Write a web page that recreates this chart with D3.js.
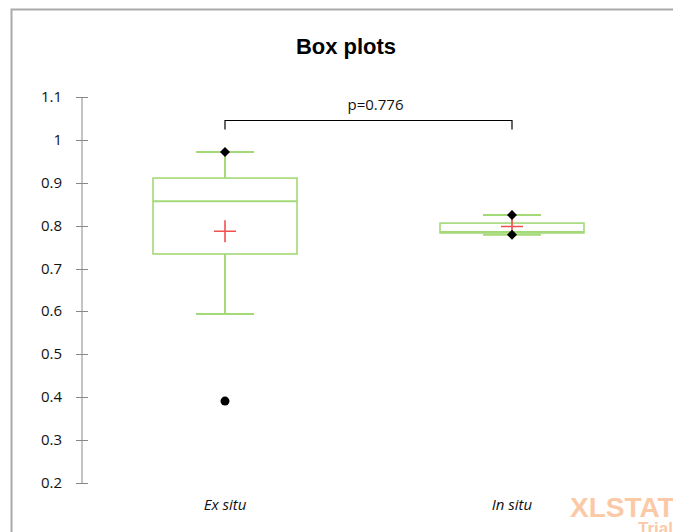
<!DOCTYPE html>
<html><head><meta charset="utf-8">
<script src="https://cdn.jsdelivr.net/npm/d3@7"></script>
<style>body{margin:0;background:#fff;overflow:hidden;}svg{display:block;}</style>
</head><body>
<script>
const categories = ["Ex situ", "In situ"];
const q1 = [0.734, 0.783];
const medians = [0.857, 0.785];
const q3 = [0.911, 0.806];
const whiskLow = [0.594, 0.779];
const whiskHigh = [0.972, 0.825];
const means = [0.787, 0.798];
const minPts = [null, 0.779];
const maxPts = [0.972, 0.825];
const outliers = [[0.391], []];
const yTicks = [0.2,0.3,0.4,0.5,0.6,0.7,0.8,0.9,1,1.1];
const pLabel = "p=0.776";

const W = 673, H = 532;
const svg = d3.select("body").append("svg").attr("width", W).attr("height", H);

// frame
svg.append("path").attr("d", `M11.5,${H} V9.5 H${W+5}`).attr("fill","none").attr("stroke","#aaaaaa").attr("stroke-width",2);

const y = d3.scaleLinear().domain([0.2,1.1]).range([483,97]);
const x = d3.scalePoint().domain(categories).range([225,512]);

svg.append("text").attr("x",346).attr("y",54).attr("text-anchor","middle")
  .attr("font-family","Liberation Sans, Arial").attr("font-weight","bold").attr("font-size",22).text("Box plots");

// y axis
const ax = svg.append("g").attr("transform","translate(82,0)");
ax.append("line").attr("y1",y(1.1)).attr("y2",y(0.2)).attr("stroke","#888").attr("stroke-width",1);
yTicks.forEach(t=>{
  ax.append("line").attr("x1",-6).attr("x2",6).attr("y1",Math.round(y(t))+0.5).attr("y2",Math.round(y(t))+0.5).attr("stroke","#888");
  ax.append("text").attr("x",-20).attr("y",y(t)+5).attr("text-anchor","end")
    .attr("font-family","Open Sans, Liberation Sans").attr("font-size",15).attr("fill","#111").text(d3.format("")(t));
});

// x labels
categories.forEach(c=>{
  svg.append("text").attr("x",x(c)).attr("y",510).attr("text-anchor","middle")
    .attr("font-family","Open Sans, Liberation Sans").attr("font-style","italic").attr("font-size",15).attr("fill","#111").text(c);
});

const green = "#a3d977";
const bw = 144, cw = 58;
categories.forEach((c,i)=>{
  const cx = x(c);
  const g = svg.append("g");
  g.append("line").attr("x1",cx).attr("x2",cx).attr("y1",y(q3[i])).attr("y2",y(whiskHigh[i])).attr("stroke",green).attr("stroke-width",2);
  g.append("line").attr("x1",cx).attr("x2",cx).attr("y1",y(q1[i])).attr("y2",y(whiskLow[i])).attr("stroke",green).attr("stroke-width",2);
  g.append("line").attr("x1",cx-cw/2).attr("x2",cx+cw/2).attr("y1",y(whiskHigh[i])).attr("y2",y(whiskHigh[i])).attr("stroke",green).attr("stroke-width",2);
  g.append("line").attr("x1",cx-cw/2).attr("x2",cx+cw/2).attr("y1",y(whiskLow[i])).attr("y2",y(whiskLow[i])).attr("stroke",green).attr("stroke-width",2);
  g.append("rect").attr("x",cx-bw/2).attr("width",bw).attr("y",y(q3[i])).attr("height",y(q1[i])-y(q3[i]))
    .attr("fill","none").attr("stroke",green).attr("stroke-width",1.6);
  g.append("line").attr("x1",cx-bw/2).attr("x2",cx+bw/2).attr("y1",y(medians[i])).attr("y2",y(medians[i])).attr("stroke",green).attr("stroke-width",2);
  const my = y(means[i]);
  g.append("path").attr("d",`M${cx-11},${my}H${cx+11}M${cx},${my-11}V${my+11}`).attr("stroke","#f25050").attr("stroke-width",1.6).attr("fill","none");
  [minPts[i],maxPts[i]].forEach(v=>{
    if(v==null) return;
    const py = y(v);
    g.append("path").attr("d",`M${cx},${py-5}L${cx+5},${py}L${cx},${py+5}L${cx-5},${py}Z`).attr("fill","#000");
  });
  outliers[i].forEach(v=>{
    g.append("circle").attr("cx",cx).attr("cy",y(v)).attr("r",4.5).attr("fill","#000");
  });
});

// p-value bracket
const by = 120.5;
svg.append("path").attr("d",`M${x(categories[0])},${by+9}V${by}H${x(categories[1])}V${by+9}`)
  .attr("fill","none").attr("stroke","#000").attr("stroke-width",1.2);
svg.append("text").attr("x",(x(categories[0])+x(categories[1]))/2+7).attr("y",110).attr("text-anchor","middle")
  .attr("font-family","Open Sans, Liberation Sans").attr("font-size",15).attr("fill","#111").text(pLabel);

// watermark
svg.append("text").attr("x",570).attr("y",517).attr("font-family","Liberation Sans, Arial").attr("font-weight","bold")
  .attr("font-size",28).attr("fill","#fbc9a6").text("XLSTAT");
svg.append("text").attr("x",638).attr("y",534).attr("font-family","Liberation Sans, Arial").attr("font-weight","bold")
  .attr("font-size",17).attr("fill","#fbc9a6").text("Trial");
</script>
</body></html>
